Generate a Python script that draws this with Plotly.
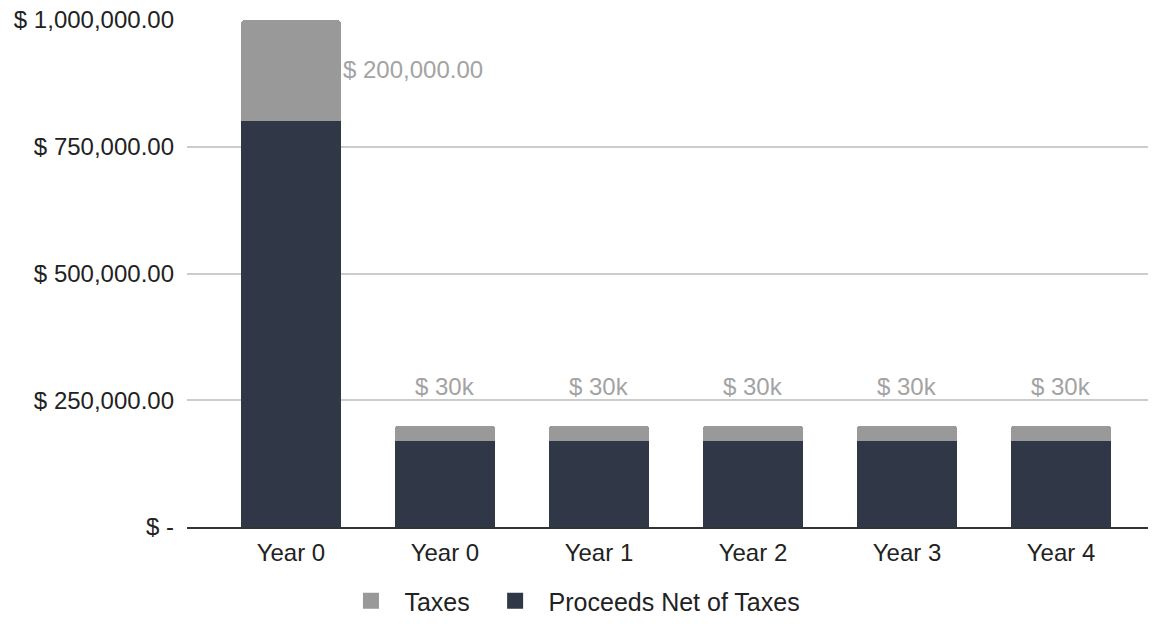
import plotly.graph_objects as go

categories = ["Year 0", "Year 0", "Year 1", "Year 2", "Year 3", "Year 4"]
proceeds_net = [800000, 170000, 170000, 170000, 170000, 170000]
taxes = [200000, 30000, 30000, 30000, 30000, 30000]
tax_labels = ["$ 200,000.00", "$ 30k", "$ 30k", "$ 30k", "$ 30k", "$ 30k"]
y_tickvals = [0, 250000, 500000, 750000, 1000000]
y_ticktext = ["$ -", "$ 250,000.00", "$ 500,000.00", "$ 750,000.00", "$ 1,000,000.00"]
series_names = ["Taxes", "Proceeds Net of Taxes"]

xpos = list(range(len(categories)))
FONT = "Liberation Sans, Arial, sans-serif"
DARK = "#303847"
GRAY = "#999999"
LABEL_GRAY = "#a3a3a3"
BAR_W = 0.65
NB = "\u00a0"

fig = go.Figure()
fig.add_trace(go.Bar(x=xpos, y=proceeds_net, name=series_names[1],
                     marker=dict(color=DARK, line=dict(width=0)), width=BAR_W,
                     showlegend=False))
fig.add_trace(go.Bar(x=xpos, y=taxes, name=series_names[0],
                     marker=dict(color=GRAY, line=dict(width=0)), width=BAR_W,
                     showlegend=False))
# legend entries with larger square swatches
fig.add_trace(go.Scatter(x=[None], y=[None], mode="markers",
                         name=NB + series_names[0] + NB * 2,
                         marker=dict(symbol="square", size=20, color=GRAY)))
fig.add_trace(go.Scatter(x=[None], y=[None], mode="markers",
                         name=NB + series_names[1],
                         marker=dict(symbol="square", size=20, color=DARK)))

for i, (n, t, lab) in enumerate(zip(proceeds_net, taxes, tax_labels)):
    if i == 0:
        fig.add_annotation(x=xpos[i] + BAR_W / 2, y=n + t / 2, text=lab,
                           showarrow=False, xanchor="left", yanchor="middle",
                           yshift=1,
                           font=dict(family=FONT, size=24, color=LABEL_GRAY))
    else:
        fig.add_annotation(x=xpos[i], y=n + t, text=lab, showarrow=False,
                           xanchor="center", yanchor="middle", yshift=39,
                           font=dict(family=FONT, size=24, color=LABEL_GRAY))

fig.update_layout(
    barmode="stack",
    barcornerradius=4,
    width=1161, height=624,
    margin=dict(l=187, r=13, t=20, b=97, autoexpand=False),
    paper_bgcolor="white", plot_bgcolor="white",
    font=dict(family=FONT, size=24, color="#222222"),
    showlegend=True,
    legend=dict(orientation="h", traceorder="normal", itemsizing="trace",
                xref="container", yref="container",
                x=0.2967, xanchor="left", y=-0.009, yanchor="bottom",
                font=dict(size=25, color="#222222"), itemwidth=43),
    xaxis=dict(tickvals=xpos, ticktext=categories, range=[-0.675, 5.565],
               showgrid=False, showline=True, linecolor="#333333", linewidth=2,
               ticks="", ticklabelstandoff=3, zeroline=False),
    yaxis=dict(range=[0, 1000000], tickvals=y_tickvals, ticktext=y_ticktext,
               showgrid=True, gridcolor="#cccccc", gridwidth=1.5,
               zeroline=False, showline=False, ticks="", ticklabelstandoff=12,
               ticklabeloverflow="allow"),
)

fig.write_html("out.html", config={"displayModeBar": False},
               post_script="document.body.style.margin='0';")
